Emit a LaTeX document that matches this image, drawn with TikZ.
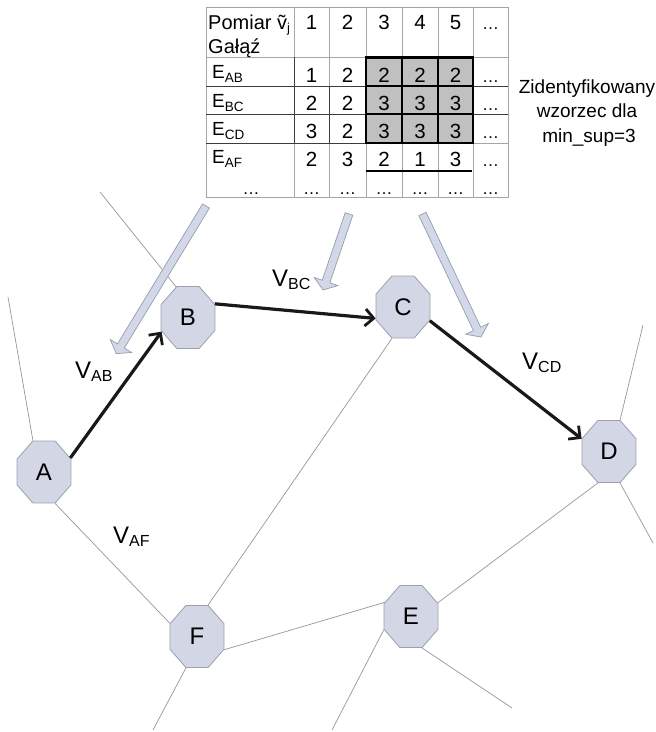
\documentclass[tikz,border=0pt]{standalone}
\usepackage{fontspec}
\setmainfont{Liberation Sans}
\usetikzlibrary{shapes.geometric,arrows.meta}

\definecolor{nodefill}{RGB}{211,215,229}
\definecolor{nodeline}{RGB}{155,160,172}
\definecolor{thinc}{RGB}{150,150,150}
\definecolor{gridc}{RGB}{165,165,165}
\definecolor{darkgrid}{RGB}{60,60,60}
\definecolor{cellgray}{RGB}{192,192,192}
\definecolor{arrfill}{RGB}{210,216,232}
\definecolor{arrline}{RGB}{150,156,172}

\newcommand\fs[1]{\fontsize{#1}{#1}\selectfont}
\newcommand\Esub[1]{E\raisebox{-4.5pt}{\fs{13.5}#1}}
\newcommand\Vsub[1]{V\raisebox{-3pt}{\fs{16}#1}}
\newcommand\blockarr[4]{%
  \begin{scope}[shift={(#1,-#2)}, rotate=#3]
    \draw[blockarrow] (0,-4) -- (#4-9,-4) -- (#4-9,-12.5) -- (#4,0) -- (#4-9,12.5) -- (#4-9,4) -- (0,4) -- cycle;
  \end{scope}}

\begin{document}
\begin{tikzpicture}[x=1pt,y=1pt,
  octo/.style={regular polygon, regular polygon sides=8, minimum size=58.4pt,
    inner sep=0pt, draw=nodeline, fill=nodefill, line width=0.8pt,
    yscale=1.148, transform shape, font=\fs{24}},
  thinln/.style={draw=thinc, line width=0.7pt},
  flow/.style={draw=black!90, line width=3.2pt,
    -{Straight Barb[length=8.5pt,width=17pt,line width=2.8pt]}},
  blockarrow/.style={draw=arrline, fill=arrfill, line width=0.7pt, line join=miter},
  cell/.style={anchor=base, font=\fs{20.5}, inner sep=0pt},
  dots/.style={anchor=base, font=\fs{17}, inner sep=0pt},
  elbl/.style={anchor=base west, font=\fs{19}, inner sep=0pt},
  lbl/.style={anchor=base west, font=\fs{24}, inner sep=0pt},
  gridln/.style={draw=gridc, line width=0.7pt},
  darkln/.style={draw=darkgrid, line width=0.9pt},
  thickln/.style={draw=black, line width=2.5pt},
  note/.style={anchor=base, font=\fs{19}, inner sep=0pt}
]
\useasboundingbox (0,0) rectangle (656,-732);

% ---------- table ----------
\fill[cellgray] (366,-57.5) rectangle (473,-143);
\draw[gridln] (206,-7) rectangle (508,-197);
\foreach \xx in {294,329,366,402,438,473} \draw[gridln] (\xx,-7) -- (\xx,-197);
\foreach \yy in {57,86,114,143} \draw[gridln] (206,-\yy) -- (508,-\yy);
\draw[darkln] (206,-86) -- (508,-86);
\draw[darkln] (206,-114) -- (508,-114);
\draw[darkln] (206,-143) -- (366,-143);
\draw[darkln] (294,-57) -- (294,-143);
\draw[darkln] (329,-86) -- (329,-143);
\draw[thickln] (366,-57.5) rectangle (473,-143);
\draw[thickln] (402,-57.5) -- (402,-143);
\draw[thickln] (438,-57.5) -- (438,-143);
\draw[thickln] (366,-86) -- (473,-86);
\draw[thickln] (366,-114) -- (473,-114);
\draw[draw=black, line width=2pt] (366,-171) -- (472,-171);

\node[anchor=base west, font=\fs{20}, inner sep=0pt] (hpom) at (208,-29) {Pomiar ṽ\raisebox{-3pt}{\fs{13}j}};
\node[anchor=base west, font=\fs{20}, inner sep=0pt] (hgal) at (208,-53) {Gałąź};
\foreach \cx/\t [count=\i] in {311.5/1, 347.5/2, 384/3, 420/4, 455.5/5}
  \node[cell] (h\i) at (\cx,-29) {\t};
\node[dots] (h6) at (490.5,-29) {…};

\node[elbl] (e1) at (212,-78) {\Esub{AB}};
\node[elbl] (e2) at (212,-107) {\Esub{BC}};
\node[elbl] (e3) at (212,-135) {\Esub{CD}};
\node[elbl] (e4) at (212,-163) {\Esub{AF}};

\foreach \r/\yy/\a/\b/\c/\d/\e in {1/82/1/2/2/2/2, 2/110/2/2/3/3/3, 3/138/3/2/3/3/3, 4/166/2/3/2/1/3}{
  \node[cell] (t\r-1) at (311.5,-\yy) {\a};
  \node[cell] (t\r-2) at (347.5,-\yy) {\b};
  \node[cell] (t\r-3) at (384,-\yy) {\c};
  \node[cell] (t\r-4) at (420,-\yy) {\d};
  \node[cell] (t\r-5) at (455.5,-\yy) {\e};
  \node[dots] (t\r-6) at (490.5,-\yy) {…};
}
\foreach \cx [count=\i] in {251,311.5,347.5,384,420,455.5,490.5}
  \node[dots] (t5-\i) at (\cx,-194) {…};

% ---------- note ----------
\node[note] (z1) at (587,-93) {Zidentyfikowany};
\node[note] (z2) at (587,-117) {wzorzec dla};
\node[note] (z3) at (589,-142) {min\_sup=3};

% ---------- graph nodes ----------
\node[octo] (A) at (44,-472) {\scalebox{1}[0.871]{A}};
\node[octo] (B) at (188,-317.5) {\scalebox{1}[0.871]{B}};
\node[octo] (C) at (403,-307) {\scalebox{1}[0.871]{C}};
\node[octo] (D) at (609,-451.5) {\scalebox{1}[0.871]{D}};
\node[octo] (E) at (411,-616.5) {\scalebox{1}[0.871]{E}};
\node[octo] (F) at (197,-636.5) {\scalebox{1}[0.871]{F}};

\coordinate (pA) at (8,-297);
\coordinate (pB) at (100,-192);
\coordinate (pD1) at (643,-325);
\coordinate (pD2) at (653,-543);
\coordinate (pE1) at (332,-730);
\coordinate (pE2) at (512,-708);
\coordinate (pF1) at (153,-730);

\draw[thinln] (A.112) -- (pA);
\draw[thinln] (A.292) -- (F.157);
\draw[thinln] (B.114) -- (pB);
\draw[thinln] (C.248) -- (F.68);
\draw[thinln] (F.337) -- (E.155);
\draw[thinln] (E.24) -- (D.248);
\draw[thinln] (D.68) -- (pD1);
\draw[thinln] (D.292) -- (pD2);
\draw[thinln] (E.203) -- (pE1);
\draw[thinln] (E.292) -- (pE2);
\draw[thinln] (F.248) -- (pF1);

\draw[flow] (A.25) -- (B.205);
\draw[flow] (B.24) -- (C.200);
\draw[flow] (C.336) -- (D.158);

% ---------- block arrows ----------
\blockarr{206}{206}{238.7}{172.8}
\blockarr{349}{214}{251.2}{80.3}
\blockarr{422.5}{214}{-64.6}{136.2}

% ---------- labels ----------
\node[lbl] (vab) at (75,-378) {\Vsub{AB}};
\node[lbl] (vbc) at (272,-286) {\Vsub{BC}};
\node[lbl] (vcd) at (522,-369) {\Vsub{CD}};
\node[lbl] (vaf) at (113,-543) {\Vsub{AF}};
\end{tikzpicture}
\end{document}
